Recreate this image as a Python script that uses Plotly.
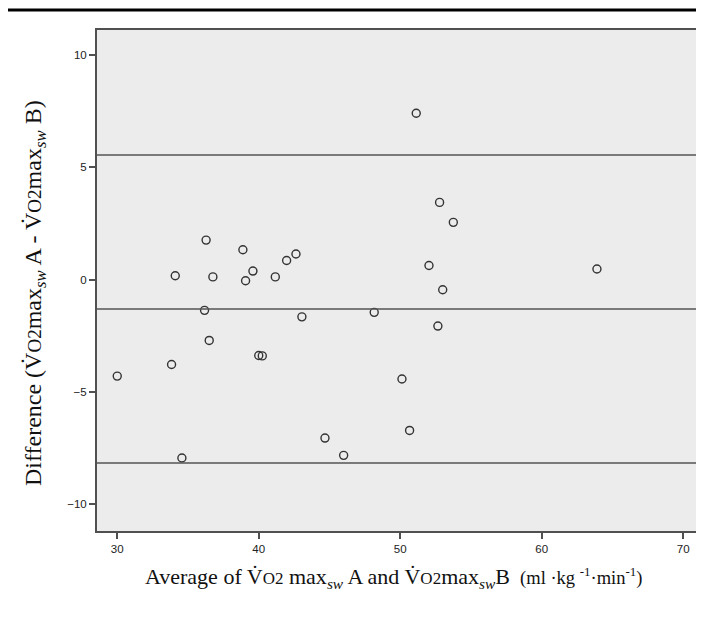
import plotly.graph_objects as go

# Bland-Altman data
avg_values = [30.0, 33.84, 34.1, 34.57, 36.17, 36.28, 36.5, 36.76, 38.88, 39.07,
              39.59, 40.0, 40.25, 41.17, 41.97, 42.63, 43.05, 44.68, 46.0, 48.16,
              50.12, 50.66, 51.13, 52.03, 52.66, 52.78, 53.0, 53.75, 63.9]
diff_values = [-4.3, -3.78, 0.17, -7.95, -1.37, 1.76, -2.71, 0.12, 1.33, -0.05,
               0.38, -3.38, -3.40, 0.12, 0.85, 1.14, -1.66, -7.06, -7.83, -1.46,
               -4.43, -6.72, 7.41, 0.63, -2.07, 3.44, -0.45, 2.55, 0.47]
ref_lines = {"upper": 5.55, "mean": -1.31, "lower": -8.17}
x_ticks = [30, 40, 50, 60, 70]
y_ticks = [-10, -5, 0, 5, 10]

x_range = [28.57, 70.9]
y_range = [-11.2, 11.12]

axis_color = "#505050"
tick_font = dict(family="Liberation Sans, Arial", size=11.5, color="#222")

fig = go.Figure()
fig.add_trace(go.Scatter(
    x=avg_values, y=diff_values, mode="markers",
    marker=dict(symbol="circle-open", size=8, color="#333333", line=dict(width=1.4)),
    showlegend=False, hoverinfo="x+y"))

for name, val in ref_lines.items():
    fig.add_trace(go.Scatter(
        x=x_range, y=[val, val], mode="lines",
        line=dict(color="#555555", width=1.6), showlegend=False, hoverinfo="skip"))

serif = "Liberation Serif, Times New Roman, serif"


def vo2(size):
    return "V\u0307<span style='font-size:%dpx'>O2</span>" % size


y_title = ("Difference (" + vo2(19) + "max<sub><i>sw</i></sub> A - " + vo2(19)
           + "max<sub><i>sw</i></sub> B)")
x_title = ("Average of " + vo2(17) + " max<sub><i>sw</i></sub> A and " + vo2(17)
           + "max<sub><i>sw</i></sub>B "
           "<span style='font-size:18.5px'> (ml ·kg <sup>-1</sup>·min<sup>-1</sup>)</span>")

# plot area: 599 px wide, 501 px tall
fig.update_layout(
    width=688, height=594,
    margin=dict(l=89, r=0, t=22, b=71),
    paper_bgcolor="white", plot_bgcolor="#ececec",
    xaxis=dict(range=x_range, tickvals=x_ticks, showgrid=False, zeroline=False,
               showline=True, linecolor=axis_color, linewidth=2, mirror=True,
               ticks="outside", ticklen=6, tickwidth=1.5, tickcolor=axis_color,
               tickfont=tick_font),
    yaxis=dict(range=y_range, tickvals=y_ticks, showgrid=False, zeroline=False,
               showline=True, linecolor=axis_color, linewidth=2, mirror=False,
               ticks="outside", ticklen=6, tickwidth=1.5, tickcolor=axis_color,
               tickfont=tick_font),
    annotations=[
        dict(text=y_title, xref="paper", yref="paper", x=-0.1035, y=0.475,
             textangle=-90, showarrow=False, xanchor="center", yanchor="middle",
             font=dict(family=serif, size=24, color="#111")),
        dict(text=x_title, xref="paper", yref="paper", x=0.4958, y=-0.094,
             showarrow=False, xanchor="center", yanchor="middle",
             font=dict(family=serif, size=22, color="#111")),
    ],
    shapes=[dict(type="line", xref="paper", yref="paper", x0=-0.1486, x1=1.0,
                 y0=1.04, y1=1.04, line=dict(color="black", width=3))],
)

fig.write_html("out.html")
